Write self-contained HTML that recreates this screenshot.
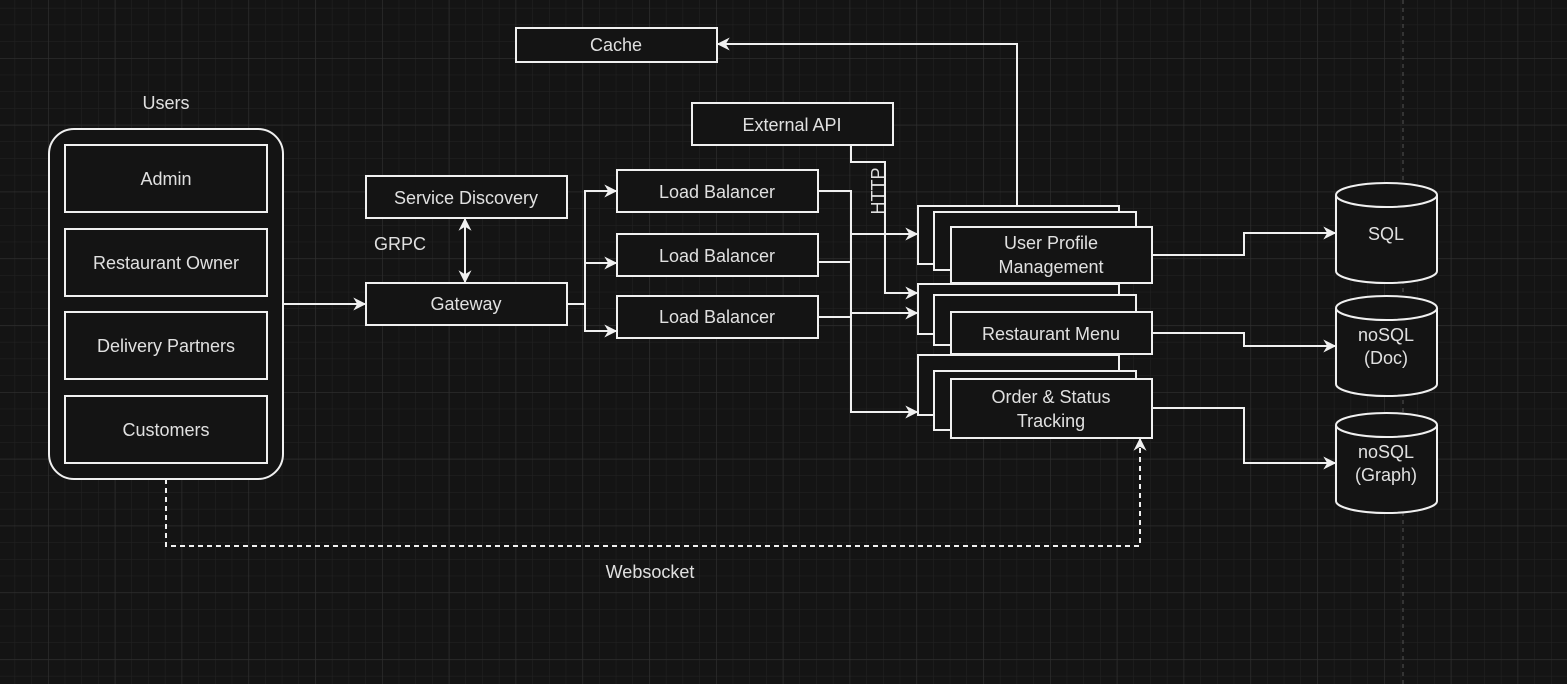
<!DOCTYPE html>
<html><head><meta charset="utf-8"><style>
html,body{margin:0;padding:0;background:#141414;}
svg{display:block;}
text{font-family:"Liberation Sans",sans-serif;font-size:18px;fill:#e0e0e0;}
</style></head><body>
<svg width="1567" height="684" xmlns="http://www.w3.org/2000/svg">
<defs>
<pattern id="minor" x="48" y="58" width="16.7" height="16.7" patternUnits="userSpaceOnUse">
<path d="M0 0H16.7M0 0V16.7" stroke="#232323" stroke-width="1" fill="none"/>
</pattern>
<pattern id="major" x="48" y="58" width="66.8" height="66.8" patternUnits="userSpaceOnUse">
<path d="M0 0H66.8M0 0V66.8" stroke="#303030" stroke-width="1.2" fill="none"/>
</pattern>
<marker id="ah" viewBox="0 0 10 10" refX="9" refY="5" markerWidth="15" markerHeight="13" orient="auto-start-reverse" markerUnits="userSpaceOnUse">
<path d="M0 0L10 5L0 10L3 5Z" fill="#f0f0f0"/>
</marker>
</defs>
<rect width="1567" height="684" fill="#141414"/>
<rect width="1567" height="684" fill="url(#minor)"/>
<rect width="1567" height="684" fill="url(#major)"/>
<line x1="1403" y1="0" x2="1403" y2="684" stroke="#555" stroke-width="1" stroke-dasharray="4 4"/>

<g stroke="#f0f0f0" stroke-width="2" fill="#141414">
<rect x="49" y="129" width="234" height="350" rx="25"/>
<rect x="65" y="145" width="202" height="67"/>
<rect x="65" y="229" width="202" height="67"/>
<rect x="65" y="312" width="202" height="67"/>
<rect x="65" y="396" width="202" height="67"/>
<rect x="366" y="176" width="201" height="42"/>
<rect x="366" y="283" width="201" height="42"/>
<rect x="617" y="170" width="201" height="42"/>
<rect x="617" y="234" width="201" height="42"/>
<rect x="617" y="296" width="201" height="42"/>
<rect x="516" y="28" width="201" height="34"/>
<rect x="692" y="103" width="201" height="42"/>
<rect x="918" y="206" width="201" height="58"/>
<rect x="934" y="212" width="202" height="58"/>
<rect x="951" y="227" width="201" height="56"/>
<rect x="918" y="284" width="201" height="50"/>
<rect x="934" y="295" width="202" height="50"/>
<rect x="951" y="312" width="201" height="42"/>
<rect x="918" y="355" width="201" height="60"/>
<rect x="934" y="371" width="202" height="59"/>
<rect x="951" y="379" width="201" height="59"/>
</g>

<g stroke="#f0f0f0" stroke-width="2" fill="#141414">
<path d="M1336 195V271A50.5 12 0 0 0 1437 271V195"/>
<ellipse cx="1386.5" cy="195" rx="50.5" ry="12"/>
<path d="M1336 308V384A50.5 12 0 0 0 1437 384V308"/>
<ellipse cx="1386.5" cy="308" rx="50.5" ry="12"/>
<path d="M1336 425V501A50.5 12 0 0 0 1437 501V425"/>
<ellipse cx="1386.5" cy="425" rx="50.5" ry="12"/>
</g>

<g stroke="#f0f0f0" stroke-width="2" fill="none">
<path d="M283 304H365" marker-end="url(#ah)"/>
<path d="M465 219V282" marker-start="url(#ah)" marker-end="url(#ah)"/>
<path d="M567 304H585V191H616" marker-end="url(#ah)"/>
<path d="M585 263H616" marker-end="url(#ah)"/>
<path d="M585 304V331H616" marker-end="url(#ah)"/>
<path d="M818 191H851V234H917" marker-end="url(#ah)"/>
<path d="M818 262H851"/>
<path d="M818 317H851"/>
<path d="M851 234V412H917" marker-end="url(#ah)"/>
<path d="M851 313H917" marker-end="url(#ah)"/>
<path d="M851 145V162H885V293H917" marker-end="url(#ah)"/>
<path d="M1017 206V44H718" marker-end="url(#ah)"/>
<path d="M1152 255H1244V233H1335" marker-end="url(#ah)"/>
<path d="M1152 333H1244V346H1335" marker-end="url(#ah)"/>
<path d="M1152 408H1244V463H1335" marker-end="url(#ah)"/>
<path d="M166 479V546H1140V439" stroke-dasharray="5 4" marker-end="url(#ah)"/>
</g>

<g text-anchor="middle">
<text x="166" y="109">Users</text>
<text x="166" y="185">Admin</text>
<text x="166" y="269">Restaurant Owner</text>
<text x="166" y="352">Delivery Partners</text>
<text x="166" y="436">Customers</text>
<text x="466" y="204">Service Discovery</text>
<text x="466" y="310">Gateway</text>
<text x="400" y="250">GRPC</text>
<text x="717" y="198">Load Balancer</text>
<text x="717" y="262">Load Balancer</text>
<text x="717" y="323">Load Balancer</text>
<text x="616" y="51">Cache</text>
<text x="792" y="131">External API</text>
<text x="1051" y="249">User Profile</text>
<text x="1051" y="273">Management</text>
<text x="1051" y="340">Restaurant Menu</text>
<text x="1051" y="403">Order &amp; Status</text>
<text x="1051" y="427">Tracking</text>
<text x="1386" y="240">SQL</text>
<text x="1386" y="341">noSQL</text>
<text x="1386" y="364">(Doc)</text>
<text x="1386" y="458">noSQL</text>
<text x="1386" y="481">(Graph)</text>
<text x="650" y="578">Websocket</text>
<text x="0" y="0" transform="translate(884,191) rotate(-90)">HTTP</text>
</g>
</svg>
</body></html>
